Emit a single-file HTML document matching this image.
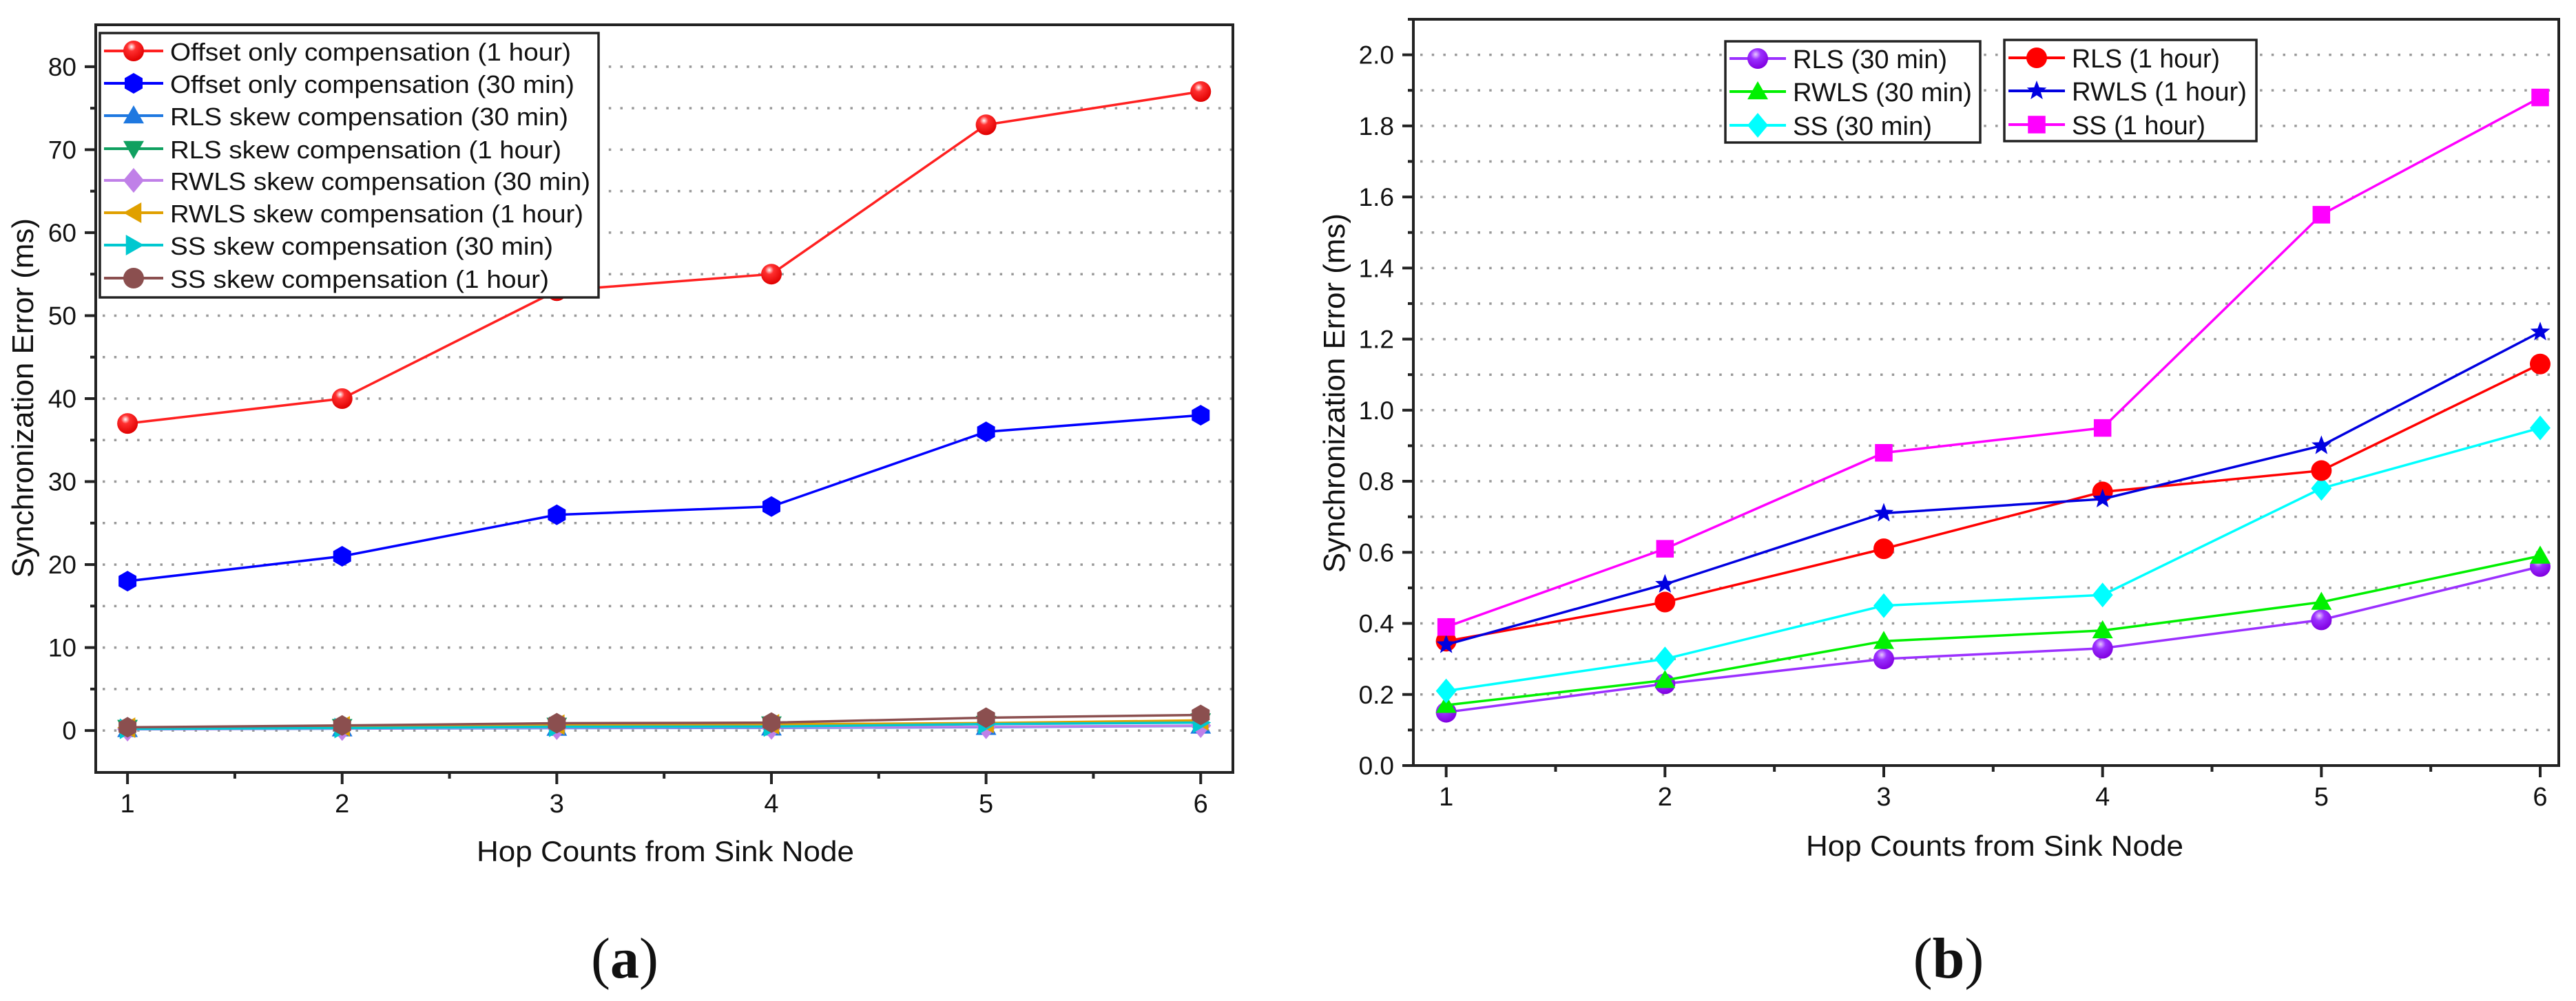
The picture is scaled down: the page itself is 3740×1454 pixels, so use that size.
<!DOCTYPE html>
<html><head><meta charset="utf-8"><style>
html,body{margin:0;padding:0;background:#fff;}
svg{display:block;}
text{font-family:"Liberation Sans",sans-serif;fill:#111;}
</style></head><body>
<svg id="fig" width="3740" height="1454" viewBox="0 0 3740 1454" xmlns="http://www.w3.org/2000/svg">
<defs>
<radialGradient id="gRed" cx="40%" cy="30%" r="70%"><stop offset="0" stop-color="#fff"/><stop offset="0.3" stop-color="#ff3030"/><stop offset="1" stop-color="#e00000"/></radialGradient>
<radialGradient id="gPur" cx="40%" cy="30%" r="70%"><stop offset="0" stop-color="#e8c8ff"/><stop offset="0.35" stop-color="#9b30ff"/><stop offset="1" stop-color="#8000e0"/></radialGradient>
</defs>
<g id="chartA"></g>
<g id="chartB"></g>
<text x="907" y="1420" font-size="84" text-anchor="middle" style="font-family:'Liberation Serif',serif">(<tspan font-weight="bold">a</tspan>)</text>
<text x="2829" y="1420" font-size="84" text-anchor="middle" style="font-family:'Liberation Serif',serif">(<tspan font-weight="bold">b</tspan>)</text>
</svg>
<script>
const hops = [1, 2, 3, 4, 5, 6];
const offset1h = [37, 40, 53, 55, 73, 77];
const offset30 = [18, 21, 26, 27, 36, 38];
const rls30 = [0.15, 0.23, 0.30, 0.33, 0.41, 0.56];
const rls1h = [0.35, 0.46, 0.61, 0.77, 0.83, 1.13];
const rwls30 = [0.17, 0.24, 0.35, 0.38, 0.46, 0.59];
const rwls1h = [0.34, 0.51, 0.71, 0.75, 0.90, 1.22];
const ss30 = [0.21, 0.30, 0.45, 0.48, 0.78, 0.95];
const ss1h = [0.39, 0.61, 0.88, 0.95, 1.55, 1.88];
const yTicksA = [0, 10, 20, 30, 40, 50, 60, 70, 80];
const yTickLabelsA = ["0", "10", "20", "30", "40", "50", "60", "70", "80"];
const yTicksB = [0, 0.2, 0.4, 0.6, 0.8, 1.0, 1.2, 1.4, 1.6, 1.8, 2.0];
const yTickLabelsB = ["0.0", "0.2", "0.4", "0.6", "0.8", "1.0", "1.2", "1.4", "1.6", "1.8", "2.0"];
const xTickLabels = ["1", "2", "3", "4", "5", "6"];

const NS = "http://www.w3.org/2000/svg";
function mk(parent, tag, attrs, txt) {
  const e = document.createElementNS(NS, tag);
  for (const k in attrs) e.setAttribute(k, attrs[k]);
  if (txt !== undefined) e.textContent = txt;
  parent.appendChild(e);
  return e;
}
function marker(g, shape, cx, cy, color, r) {
  let e;
  if (shape === "sphere" || shape === "circle") {
    e = mk(g, "circle", {cx: cx, cy: cy, r: r, fill: color});
  } else if (shape === "hex") {
    const p = [];
    for (let i = 0; i < 6; i++) { const a = Math.PI / 6 + i * Math.PI / 3; p.push((cx + r * Math.cos(a)) + "," + (cy + r * Math.sin(a))); }
    e = mk(g, "polygon", {points: p.join(" "), fill: color});
  } else if (shape === "up") {
    e = mk(g, "polygon", {points: `${cx},${cy - r} ${cx - r},${cy + r * 0.75} ${cx + r},${cy + r * 0.75}`, fill: color});
  } else if (shape === "down") {
    e = mk(g, "polygon", {points: `${cx},${cy + r} ${cx - r},${cy - r * 0.75} ${cx + r},${cy - r * 0.75}`, fill: color});
  } else if (shape === "left") {
    e = mk(g, "polygon", {points: `${cx - r},${cy} ${cx + r * 0.75},${cy - r} ${cx + r * 0.75},${cy + r}`, fill: color});
  } else if (shape === "right") {
    e = mk(g, "polygon", {points: `${cx + r},${cy} ${cx - r * 0.75},${cy - r} ${cx - r * 0.75},${cy + r}`, fill: color});
  } else if (shape === "diamond") {
    e = mk(g, "polygon", {points: `${cx},${cy - r * 1.2} ${cx + r},${cy} ${cx},${cy + r * 1.2} ${cx - r},${cy}`, fill: color});
  } else if (shape === "square") {
    e = mk(g, "rect", {x: cx - r * 0.85, y: cy - r * 0.85, width: r * 1.7, height: r * 1.7, fill: color});
  } else if (shape === "star") {
    const p = [];
    for (let i = 0; i < 10; i++) { const a = -Math.PI / 2 + i * Math.PI / 5; const rr = i % 2 ? r * 0.42 : r; p.push((cx + rr * Math.cos(a)) + "," + (cy + rr * Math.sin(a))); }
    e = mk(g, "polygon", {points: p.join(" "), fill: color});
  }
  return e;
}

function drawChart(root, cfg) {
  const xS = v => cfg.L + (v - cfg.xmin) / (cfg.xmax - cfg.xmin) * (cfg.R - cfg.L);
  const yS = v => cfg.B - (v - cfg.ymin) / (cfg.ymax - cfg.ymin) * (cfg.B - cfg.T);
  const grid = mk(root, "g", {});
  
  
  for (let v = cfg.gridStart; v <= cfg.ymax + 1e-9; v += cfg.gridStep) {
    const y = yS(v);
    if (y <= cfg.T + 4 || y >= cfg.B - 2) continue;
    mk(grid, "line", {x1: cfg.L + 10, x2: cfg.R, y1: y, y2: y, stroke: "#999", "stroke-width": 3.5, "stroke-dasharray": "3.5 13.2"});
  }
  cfg.series.forEach(s => {
    const g = mk(root, "g", {});
    
    
    const pts = hops.map((h, i) => xS(h) + "," + yS(s.vals[i])).join(" ");
    mk(g, "polyline", {points: pts, fill: "none", stroke: s.color, "stroke-width": 3.5});
    hops.forEach((h, i) => {
      const m = marker(g, s.shape, xS(h), yS(s.vals[i]), s.fill || s.color, cfg.mr);
      
      
    });
  });
  const fr = mk(root, "rect", {x: cfg.L, y: cfg.T, width: cfg.R - cfg.L, height: cfg.B - cfg.T, fill: "none", stroke: "#222", "stroke-width": 4});
  
  
  const ya = mk(root, "g", {});
  
  
  cfg.yTicks.forEach((v, i) => {
    const y = yS(v);
    mk(ya, "line", {x1: cfg.L - 16, x2: cfg.L, y1: y, y2: y, stroke: "#222", "stroke-width": 4});
    const t = mk(ya, "text", {x: cfg.L - 28, y: y + 13, "font-size": 37, "text-anchor": "end"}, cfg.yLabels[i]);
    
    
    if (i < cfg.yTicks.length - 1) {
      const ym = yS((v + cfg.yTicks[i + 1]) / 2);
      mk(ya, "line", {x1: cfg.L - 8, x2: cfg.L, y1: ym, y2: ym, stroke: "#222", "stroke-width": 4});
    }
  });
  if (cfg.extraMinor !== undefined) {
    const ym = yS(cfg.extraMinor);
    mk(ya, "line", {x1: cfg.L - 8, x2: cfg.L, y1: ym, y2: ym, stroke: "#222", "stroke-width": 4});
  }
  const xa = mk(root, "g", {});
  
  
  hops.forEach((h, i) => {
    const x = xS(h);
    mk(xa, "line", {x1: x, x2: x, y1: cfg.B, y2: cfg.B + 17, stroke: "#222", "stroke-width": 4});
    const t = mk(xa, "text", {x: x, y: cfg.B + 58, "font-size": 38, "text-anchor": "middle"}, xTickLabels[i]);
    
    
    if (i < hops.length - 1) {
      const xm = xS(h + 0.5);
      mk(xa, "line", {x1: xm, x2: xm, y1: cfg.B, y2: cfg.B + 9, stroke: "#222", "stroke-width": 4});
    }
  });
  const xt = mk(root, "text", {x: cfg.xtX, y: cfg.xtY, "font-size": 42, "text-anchor": "middle", textLength: 548, lengthAdjust: "spacingAndGlyphs"}, "Hop Counts from Sink Node");
  
  
  const yt = mk(root, "text", {x: 0, y: 0, "font-size": 44, "text-anchor": "middle", textLength: 522, lengthAdjust: "spacingAndGlyphs", transform: `translate(${cfg.ytX},${cfg.ytY}) rotate(-90)`}, "Synchronization Error (ms)");
  
  
  cfg.legends.forEach(lg => {
    const g = mk(root, "g", {});
    
    
    mk(g, "rect", {x: lg.x, y: lg.y, width: lg.w, height: lg.h, fill: "#fff", stroke: "#222", "stroke-width": 3.5});
    lg.items.forEach((s, i) => {
      const ry = lg.rowY[i];
      const e = mk(g, "g", {});
      
      
      mk(e, "line", {x1: lg.x + 6, x2: lg.x + lg.lineW, y1: ry, y2: ry, stroke: s.color, "stroke-width": 4});
      marker(e, s.lshape || s.shape, lg.x + 6 + (lg.lineW - 6) / 2, ry, s.fill || s.color, cfg.mr);
      mk(e, "text", {x: lg.x + lg.lineW + 10, y: ry + 14, "font-size": lg.fs, textLength: s.tl, lengthAdjust: "spacingAndGlyphs"}, s.label);
    });
  });
}

const seriesA = [
  {name: "offset-1h-line", label: "Offset only compensation (1 hour)", vals: offset1h, color: "#ff2020", fill: "url(#gRed)", shape: "sphere", tl: 582},
  {name: "offset-30min-line", label: "Offset only compensation (30 min)", vals: offset30, color: "#0000ff", shape: "hex", tl: 587},
  {name: "rls-30min-line", label: "RLS skew compensation (30 min)", vals: rls30, color: "#1e78e0", shape: "up", tl: 578},
  {name: "rls-1h-line", label: "RLS skew compensation (1 hour)", vals: rls1h, color: "#10a060", shape: "down", tl: 568},
  {name: "rwls-30min-line", label: "RWLS skew compensation (30 min)", vals: rwls30, color: "#c080e8", shape: "diamond", tl: 610},
  {name: "rwls-1h-line", label: "RWLS skew compensation (1 hour)", vals: rwls1h, color: "#e0a000", shape: "left", tl: 600},
  {name: "ss-30min-line", label: "SS skew compensation (30 min)", vals: ss30, color: "#00c8d0", shape: "right", tl: 556},
  {name: "ss-1h-line", label: "SS skew compensation (1 hour)", vals: ss1h, color: "#8b4f4f", shape: "hex", lshape: "circle", tl: 550}
];
const drawOrderA = [seriesA[2], seriesA[3], seriesA[4], seriesA[5], seriesA[6], seriesA[7], seriesA[1], seriesA[0]];
drawChart(document.getElementById("chartA"), {
  L: 139, R: 1790, T: 36, B: 1122, xmin: 0.852, xmax: 6.15, ymin: -5.05, ymax: 85.05,
  gridStart: 0, gridStep: 5, yTicks: yTicksA, yLabels: yTickLabelsA, mr: 15,
  xtX: 966, xtY: 1251, ytX: 48, ytY: 578,
  series: drawOrderA,
  legends: [{x: 145, y: 48, w: 724, h: 384, lineW: 92, fs: 36, rowY: [74, 121, 168, 216, 262, 309, 356, 404], items: seriesA}]
});

const seriesB1 = [
  {name: "rls-30min-line", label: "RLS (30 min)", vals: rls30, color: "#9b30ff", fill: "url(#gPur)", shape: "sphere", tl: 224},
  {name: "rwls-30min-line", label: "RWLS (30 min)", vals: rwls30, color: "#00f000", shape: "up", tl: 260},
  {name: "ss-30min-line", label: "SS (30 min)", vals: ss30, color: "#00ffff", shape: "diamond", tl: 202}
];
const seriesB2 = [
  {name: "rls-1h-line", label: "RLS (1 hour)", vals: rls1h, color: "#ff0000", shape: "circle", tl: 215},
  {name: "rwls-1h-line", label: "RWLS (1 hour)", vals: rwls1h, color: "#0000e0", shape: "star", tl: 254},
  {name: "ss-1h-line", label: "SS (1 hour)", vals: ss1h, color: "#ff00ff", shape: "square", tl: 194}
];
drawChart(document.getElementById("chartB"), {
  L: 2052, R: 3715, T: 28, B: 1112, xmin: 0.85, xmax: 6.085, ymin: 0, ymax: 2.1,
  gridStart: 0.1, gridStep: 0.1, yTicks: yTicksB, yLabels: yTickLabelsB, mr: 15, extraMinor: 2.1,
  xtX: 2896, xtY: 1243, ytX: 1952, ytY: 571,
  series: [seriesB1[0], seriesB1[1], seriesB1[2], seriesB2[0], seriesB2[1], seriesB2[2]],
  legends: [
    {x: 2505, y: 60, w: 370, h: 147, lineW: 88, fs: 38, rowY: [85, 133, 182], items: seriesB1},
    {x: 2910, y: 58, w: 366, h: 147, lineW: 88, fs: 38, rowY: [84, 132, 181], items: seriesB2}
  ]
});
</script>
</body></html>
